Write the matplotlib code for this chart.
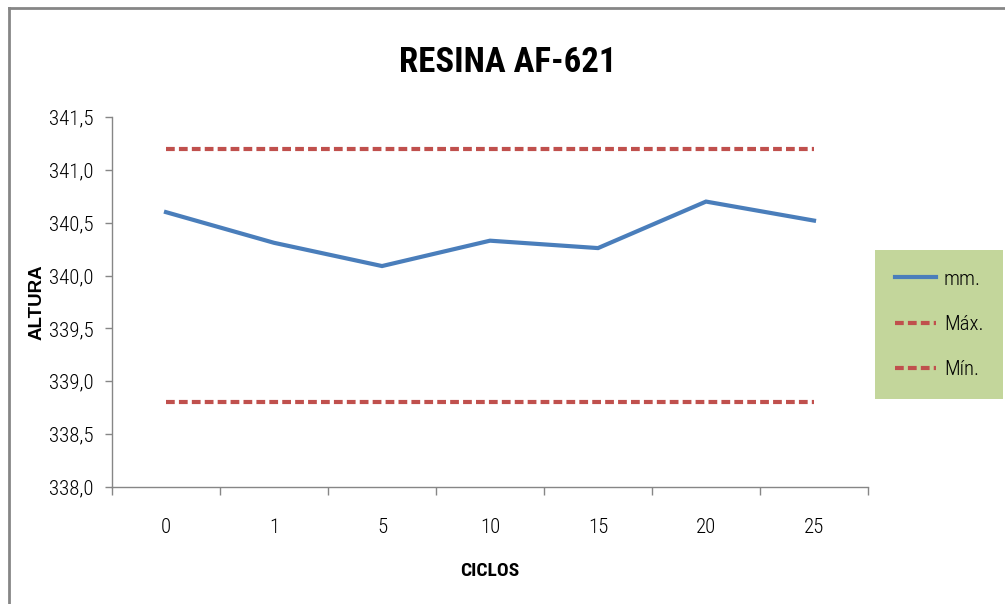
import matplotlib.pyplot as plt
from matplotlib.lines import Line2D

plt.rcParams['font.family'] = ['Roboto Condensed', 'Liberation Sans Narrow',
                               'Roboto', 'DejaVu Sans']

ciclos = ["0", "1", "5", "10", "15", "20", "25"]
altura_mm = [340.6, 340.31, 340.09, 340.33, 340.26, 340.7, 340.52]
maximo = [341.2] * 7
minimo = [338.8] * 7
y_ticks = [338.0, 338.5, 339.0, 339.5, 340.0, 340.5, 341.0, 341.5]

blue = "#4a7ebb"
red = "#c0504d"
grey = "#868686"

fig = plt.figure(figsize=(10.05, 6.04), dpi=100)
ax = fig.add_axes([112 / 1005, 117 / 604, 756 / 1005, 370 / 604])

x = list(range(len(ciclos)))
ax.plot(x, altura_mm, color=blue, lw=3.0, label="mm.", solid_joinstyle="miter")
ax.plot(x, maximo, color=red, lw=3.0, dashes=(2.1, 1.0), label="Máx.")
ax.plot(x, minimo, color=red, lw=3.0, dashes=(2.1, 1.0), label="Mín.")

ax.set_xlim(-0.5, len(ciclos) - 0.5)
ax.set_ylim(338.0, 341.5)
ax.set_yticks(y_ticks)
ax.set_yticklabels([f"{v:.1f}".replace(".", ",") for v in y_ticks])
ax.set_xticks(x)
ax.set_xticklabels(ciclos)
ax.set_xticks([i - 0.5 for i in range(len(ciclos) + 1)], minor=True)
ax.tick_params(axis="x", which="major", length=0, pad=22, labelsize=15)
ax.tick_params(axis="x", which="minor", length=6, color=grey, width=1)
ax.tick_params(axis="y", length=5, color=grey, width=1, labelsize=15, pad=8)
for lbl in ax.get_xticklabels() + ax.get_yticklabels():
    lbl.set_fontweight("light")

for s in ("top", "right"):
    ax.spines[s].set_visible(False)
for s in ("left", "bottom"):
    ax.spines[s].set_color(grey)
    ax.spines[s].set_linewidth(1)

ax.set_xlabel("CICLOS", fontsize=14, fontweight="bold", labelpad=18)
ax.set_ylabel("ALTURA", fontsize=13.5, fontweight="bold",
              family="Liberation Sans")
ax.yaxis.set_label_coords(-0.088, 0.5)

fig.text(508 / 1005, 1 - 62 / 604, "RESINA AF-621", fontsize=25,
         fontweight="bold", ha="center", va="center")

leg = ax.legend(loc="upper left", bbox_to_anchor=(875 / 1005, 1 - 250 / 604),
                bbox_transform=fig.transFigure, frameon=True,
                facecolor="#c3d69b", edgecolor="none", fancybox=False,
                prop={"size": 15, "weight": "light"},
                handlelength=2.0, handletextpad=0.35,
                labelspacing=1.25, borderpad=0.95, borderaxespad=0)
leg.get_frame().set_alpha(1)

# chart area border
fig.add_artist(Line2D([9 / 1005, 9 / 1005], [0, 1 - 8 / 604],
                      transform=fig.transFigure, color=grey, lw=2))
fig.add_artist(Line2D([9 / 1005, 1], [1 - 8 / 604, 1 - 8 / 604],
                      transform=fig.transFigure, color=grey, lw=2))

fig.savefig("out.png", dpi=100)
